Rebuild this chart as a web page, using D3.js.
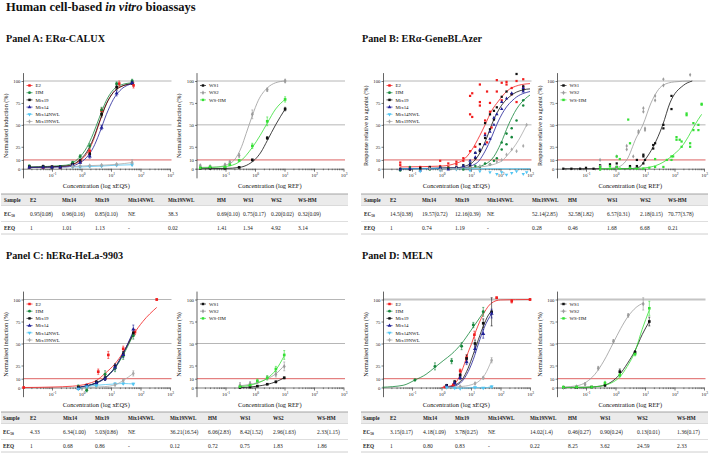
<!DOCTYPE html>
<html>
<head>
<meta charset="utf-8">
<script src="https://cdn.jsdelivr.net/npm/d3@7"></script>
<style>
  body { margin: 0; background: #fff; }
  svg { display: block; font-family: "Liberation Serif", "Times New Roman", serif; }
</style>
</head>
<body>
<svg id="chart" width="709" height="455"></svg>
<script>
// ---- legends / table headings ----
const legendMix = ['E2', 'HM', 'Mix19', 'Mix14', 'Mix14NWL', 'Mix19NWL'];
const legendWS = ['WS1', 'WS2', 'WS-HM'];
const tableCols = ['E2', 'Mix14', 'Mix19', 'Mix14NWL', 'Mix19NWL', 'HM', 'WS1', 'WS2', 'WS-HM'];
const xTicks = [0.1, 1, 10, 100, 1000];
const yTicks = [0, 10, 25, 50, 75, 100];

// ---- tables (EC50 and EEQ) ----
const ec50A = ['0.95(0.08)', '0.96(0.16)', '0.85(0.10)', 'NE', '38.3', '0.69(0.10)', '0.75(0.17)', '0.20(0.02)', '0.32(0.09)'];
const eeqA = ['1', '1.01', '1.13', '-', '0.02', '1.41', '1.34', '4.92', '3.14'];
const ec50B = ['14.5(0.38)', '19.57(0.72)', '12.16(0.39)', 'NE', '52.14(2.85)', '32.58(1.82)', '6.57(0.31)', '2.18(0.15)', '70.77(3.78)'];
const eeqB = ['1', '0.74', '1.19', '-', '0.28', '0.46', '1.68', '6.68', '0.21'];
const ec50C = ['4.33', '6.34(1.00)', '5.03(0.86)', 'NE', '36.21(16.54)', '6.06(2.83)', '8.42(1.52)', '2.96(1.63)', '2.33(1.15)'];
const eeqC = ['1', '0.68', '0.86', '-', '0.12', '0.72', '0.75', '1.83', '1.86'];
const ec50D = ['3.15(0.17)', '4.18(1.09)', '3.78(0.25)', 'NE', '14.02(1.4)', '0.46(0.27)', '0.90(0.24)', '0.13(0.01)', '1.36(0.17)'];
const eeqD = ['1', '0.80', '0.83', '-', '0.22', '8.25', '3.62', '24.59', '2.33'];

// ---- Panel A: ERa-CALUX  [series, conc, mean, sd] ----
const pointsA1 = [
	['E2', 0.017, 2, 1], ['E2', 0.05, 1.5, 1], ['E2', 0.1, 2, 1], ['E2', 0.19, 1.5, 1], ['E2', 0.5, 4, 1.5],
	['E2', 0.9, 8, 1.5], ['E2', 1.9, 20, 2], ['E2', 4.8, 66, 3], ['E2', 19, 97, 3], ['E2', 58, 95, 3],
	['HM', 0.017, 3, 1], ['HM', 0.05, 2.5, 1], ['HM', 0.1, 2, 1], ['HM', 0.19, 2.5, 1], ['HM', 0.5, 7, 1.5],
	['HM', 0.9, 14, 2], ['HM', 1.9, 26, 2.5], ['HM', 4.8, 67, 3], ['HM', 15.5, 97, 2], ['HM', 52, 100, 2],
	['Mix19', 0.017, 2, 1.5], ['Mix19', 0.05, 2.5, 1.5], ['Mix19', 0.1, 2, 1], ['Mix19', 0.19, 2, 1], ['Mix19', 0.5, 5, 2],
	['Mix19', 0.9, 9, 1.5], ['Mix19', 1.9, 17, 2], ['Mix19', 4.8, 62, 3], ['Mix19', 15.5, 93, 3], ['Mix19', 52, 98, 2],
	['Mix14', 0.017, 1.5, 1], ['Mix14', 0.05, 1.5, 1], ['Mix14', 0.1, 1.5, 1], ['Mix14', 0.19, 1.5, 1], ['Mix14', 0.5, 4, 1],
	['Mix14', 0.9, 7, 1], ['Mix14', 1.9, 14, 2], ['Mix14', 4.8, 47, 2.5], ['Mix14', 15.5, 86, 3], ['Mix14', 52, 98, 2],
	['Mix14NWL', 0.5, 2, 0.5], ['Mix14NWL', 0.9, 2, 0.5], ['Mix14NWL', 1.9, 2.5, 0.5], ['Mix14NWL', 4.8, 3, 0.5],
	['Mix14NWL', 15.5, 4, 0.5], ['Mix14NWL', 52, 4.5, 1],
	['Mix19NWL', 0.5, 2.5, 0.5], ['Mix19NWL', 0.9, 3, 0.5], ['Mix19NWL', 1.9, 3.5, 0.5], ['Mix19NWL', 4.8, 4, 0.5],
	['Mix19NWL', 15.5, 5, 0.8], ['Mix19NWL', 52, 7, 3.5]
];
// fitted curves  [series, conc, response]
const curvesA1 = [
	['E2', 0.017, 1.5], ['E2', 0.3, 3], ['E2', 0.8, 8], ['E2', 1.5, 17], ['E2', 2.5, 32], ['E2', 4, 52], ['E2', 7, 74], ['E2', 12, 87], ['E2', 20, 93], ['E2', 58, 97],
	['HM', 0.017, 2], ['HM', 0.3, 4], ['HM', 0.8, 12], ['HM', 1.5, 24], ['HM', 2.5, 40], ['HM', 4, 58], ['HM', 7, 78], ['HM', 12, 90], ['HM', 20, 95], ['HM', 52, 98],
	['Mix19', 0.017, 1.5], ['Mix19', 0.3, 3], ['Mix19', 0.8, 9], ['Mix19', 1.5, 19], ['Mix19', 2.5, 34], ['Mix19', 4, 53], ['Mix19', 7, 74], ['Mix19', 12, 87], ['Mix19', 20, 93], ['Mix19', 52, 97],
	['Mix14', 0.017, 1.5], ['Mix14', 0.3, 2], ['Mix14', 0.8, 6], ['Mix14', 1.5, 13], ['Mix14', 2.5, 24], ['Mix14', 4, 40], ['Mix14', 7, 62], ['Mix14', 12, 79], ['Mix14', 20, 89], ['Mix14', 52, 97],
	['Mix14NWL', 0.5, 2], ['Mix14NWL', 0.9, 2], ['Mix14NWL', 1.9, 2.5], ['Mix14NWL', 4.8, 3], ['Mix14NWL', 15.5, 4], ['Mix14NWL', 52, 4.5],
	['Mix19NWL', 0.5, 2.5], ['Mix19NWL', 0.9, 3], ['Mix19NWL', 1.9, 3.5], ['Mix19NWL', 4.8, 4], ['Mix19NWL', 15.5, 5], ['Mix19NWL', 52, 7]
];
const pointsA2 = [
	['WS1', 0.014, 0.5, 0.5], ['WS1', 0.03, 0.5, 0.5], ['WS1', 0.096, 0.5, 0.5], ['WS1', 0.29, 1.5, 0.5],
	['WS1', 0.81, 10, 1], ['WS1', 2.6, 35, 1.5], ['WS1', 10.5, 68, 2],
	['WS2', 0.014, 3.5, 1.5], ['WS2', 0.03, 2.5, 1], ['WS2', 0.096, 4.5, 1], ['WS2', 0.14, 7.5, 1.5],
	['WS2', 0.29, 15, 2.5], ['WS2', 0.81, 62, 5], ['WS2', 2.6, 90, 2], ['WS2', 10.5, 100, 2],
	['WS-HM', 0.014, 1, 1], ['WS-HM', 0.03, 2, 1], ['WS-HM', 0.096, 2, 1], ['WS-HM', 0.14, 4.5, 1],
	['WS-HM', 0.29, 9.5, 1], ['WS-HM', 0.81, 26, 3], ['WS-HM', 2.6, 54, 5], ['WS-HM', 10.5, 79, 3]
];
const curvesA2 = [
	['WS1', 0.014, 0], ['WS1', 0.1, 0.3], ['WS1', 0.3, 1.5], ['WS1', 0.6, 5], ['WS1', 1, 10.5], ['WS1', 1.6, 19], ['WS1', 2.6, 32], ['WS1', 5, 50], ['WS1', 10.5, 68],
	['WS2', 0.014, 1.5], ['WS2', 0.05, 2], ['WS2', 0.1, 4], ['WS2', 0.2, 10], ['WS2', 0.35, 25], ['WS2', 0.5, 40], ['WS2', 0.8, 60], ['WS2', 1.3, 78], ['WS2', 2.6, 92], ['WS2', 5, 98], ['WS2', 10.5, 100],
	['WS-HM', 0.014, 1], ['WS-HM', 0.1, 2.5], ['WS-HM', 0.3, 8], ['WS-HM', 0.8, 24], ['WS-HM', 1.5, 38], ['WS-HM', 2.6, 52], ['WS-HM', 5, 68], ['WS-HM', 10.5, 79]
];

// ---- Panel B: ERa-GeneBLAzer  (replicates)  [series, conc, response] ----
const pointsB1 = [
	['E2', 0.04, 4], ['E2', 0.04, 7], ['E2', 0.085, 1], ['E2', 0.19, 2], ['E2', 0.19, -1], ['E2', 0.4, 1], ['E2', 0.9, 3], ['E2', 0.9, 9],
	['E2', 1.7, 2], ['E2', 1.7, 6], ['E2', 3.2, 5], ['E2', 3.2, 8], ['E2', 5.5, 9], ['E2', 5.5, 12], ['E2', 9.3, 20], ['E2', 9.3, 62],
	['E2', 9.3, 83], ['E2', 11, 86], ['E2', 11, 59], ['E2', 14, 25], ['E2', 20, 96], ['E2', 20, 76], ['E2', 20, 72], ['E2', 30, 55],
	['E2', 30, 40], ['E2', 35, 88], ['E2', 35, 30], ['E2', 44, 75], ['E2', 44, 65], ['E2', 50, 47], ['E2', 75, 101], ['E2', 75, 88],
	['E2', 110, 98], ['E2', 110, 78], ['E2', 160, 99], ['E2', 160, 96], ['E2', 240, 85], ['E2', 240, 92], ['E2', 350, 100], ['E2', 350, 76],
	['E2', 590, 102], ['E2', 590, 93],
	['HM', 0.04, -2], ['HM', 0.085, 2], ['HM', 0.19, 0], ['HM', 0.4, -1], ['HM', 0.9, 2], ['HM', 1.7, 1], ['HM', 3.2, 0], ['HM', 5.5, -1],
	['HM', 9.3, 1], ['HM', 14, 3], ['HM', 20, 2], ['HM', 30, 6], ['HM', 44, 5], ['HM', 60, 9], ['HM', 75, 12], ['HM', 110, 22],
	['HM', 110, 30], ['HM', 160, 28], ['HM', 160, 40], ['HM', 240, 36], ['HM', 240, 46], ['HM', 350, 55], ['HM', 590, 72], ['HM', 590, 78],
	['Mix19', 0.04, 0], ['Mix19', 0.085, -1], ['Mix19', 0.19, 1], ['Mix19', 0.4, 2], ['Mix19', 0.9, 1], ['Mix19', 1.7, 0], ['Mix19', 3.2, 2],
	['Mix19', 5.5, 4], ['Mix19', 9.3, 6], ['Mix19', 9.3, 3], ['Mix19', 14, 12], ['Mix19', 14, 18], ['Mix19', 20, 20], ['Mix19', 20, 28],
	['Mix19', 30, 35], ['Mix19', 30, 52], ['Mix19', 44, 45], ['Mix19', 44, 62], ['Mix19', 60, 56], ['Mix19', 60, 66], ['Mix19', 75, 70],
	['Mix19', 110, 82], ['Mix19', 160, 88], ['Mix19', 240, 85], ['Mix19', 350, 108], ['Mix19', 590, 90], ['Mix19', 590, 94],
	['Mix14', 0.04, -1], ['Mix14', 0.085, 0], ['Mix14', 0.19, -2], ['Mix14', 0.4, 0], ['Mix14', 0.9, 1], ['Mix14', 1.7, -1], ['Mix14', 3.2, 1],
	['Mix14', 5.5, 3], ['Mix14', 9.3, 5], ['Mix14', 9.3, 9], ['Mix14', 14, 13], ['Mix14', 14, 18], ['Mix14', 20, 22], ['Mix14', 30, 28],
	['Mix14', 30, 38], ['Mix14', 44, 34], ['Mix14', 44, 42], ['Mix14', 60, 50], ['Mix14', 60, 58], ['Mix14', 75, 62], ['Mix14', 110, 68],
	['Mix14', 110, 76], ['Mix14', 160, 80], ['Mix14', 240, 86], ['Mix14', 590, 88], ['Mix14', 590, 92],
	['Mix14NWL', 0.19, -3], ['Mix14NWL', 0.9, -2], ['Mix14NWL', 3.2, -1], ['Mix14NWL', 9.3, -2], ['Mix14NWL', 20, -3], ['Mix14NWL', 44, -4],
	['Mix14NWL', 75, -6], ['Mix14NWL', 110, -4], ['Mix14NWL', 160, -7], ['Mix14NWL', 240, -5], ['Mix14NWL', 350, -3], ['Mix14NWL', 590, -6],
	['Mix14NWL', 770, -4],
	['Mix19NWL', 0.4, 0], ['Mix19NWL', 0.9, -1], ['Mix19NWL', 3.2, 0], ['Mix19NWL', 9.3, 1], ['Mix19NWL', 20, 3], ['Mix19NWL', 44, 5],
	['Mix19NWL', 75, 8], ['Mix19NWL', 110, 10], ['Mix19NWL', 160, 16], ['Mix19NWL', 240, 22], ['Mix19NWL', 350, 20], ['Mix19NWL', 590, 26],
	['Mix19NWL', 770, 50]
];
const curvesB1 = [
	['E2', 0.04, 2], ['E2', 1, 3], ['E2', 3, 6], ['E2', 5.5, 10], ['E2', 10, 20], ['E2', 20, 38], ['E2', 30, 50], ['E2', 50, 66], ['E2', 85, 77], ['E2', 160, 88], ['E2', 400, 95], ['E2', 1000, 97],
	['HM', 0.04, 0], ['HM', 10, 1], ['HM', 30, 5], ['HM', 60, 14], ['HM', 100, 28], ['HM', 186, 50], ['HM', 350, 68], ['HM', 700, 80], ['HM', 1000, 84],
	['Mix19', 0.04, 0], ['Mix19', 3, 1], ['Mix19', 9, 5], ['Mix19', 20, 18], ['Mix19', 35, 36], ['Mix19', 50, 50], ['Mix19', 90, 68], ['Mix19', 200, 82], ['Mix19', 600, 90], ['Mix19', 1000, 91],
	['Mix14', 0.04, 0], ['Mix14', 5, 1], ['Mix14', 15, 6], ['Mix14', 30, 20], ['Mix14', 50, 36], ['Mix14', 74, 50], ['Mix14', 130, 66], ['Mix14', 300, 80], ['Mix14', 1000, 88],
	['Mix14NWL', 0.04, 0], ['Mix14NWL', 1000, 0],
	['Mix19NWL', 1, 0], ['Mix19NWL', 20, 2], ['Mix19NWL', 100, 8], ['Mix19NWL', 200, 18], ['Mix19NWL', 400, 32], ['Mix19NWL', 770, 50]
];
const pointsB2 = [
	['WS1', 0.017, 0], ['WS1', 0.032, 0], ['WS1', 0.063, 0], ['WS1', 0.1, 1], ['WS1', 0.18, 0], ['WS1', 0.3, 2], ['WS1', 0.3, 4],
	['WS1', 0.65, 5], ['WS1', 1.1, 6], ['WS1', 1.1, 2], ['WS1', 3.1, 3], ['WS1', 3.1, 1], ['WS1', 5.3, 10], ['WS1', 5.3, 3],
	['WS1', 8.8, 14], ['WS1', 8.8, 16], ['WS1', 8.8, 6], ['WS1', 10, 10], ['WS1', 19, 23], ['WS1', 19, 27], ['WS1', 22, 29],
	['WS1', 42, 50], ['WS1', 42, 46], ['WS1', 79, 83], ['WS1', 79, 68],
	['WS2', 0.3, 10], ['WS2', 0.3, 3], ['WS2', 1.1, 14], ['WS2', 1.1, 1], ['WS2', 2.4, 22], ['WS2', 2.4, 26], ['WS2', 4, 14],
	['WS2', 6, 43], ['WS2', 6, 41], ['WS2', 8.8, 69], ['WS2', 8.8, 65], ['WS2', 10, 46], ['WS2', 10, 44], ['WS2', 22, 83],
	['WS2', 22, 78], ['WS2', 42, 102], ['WS2', 42, 95], ['WS2', 339, 107],
	['WS-HM', 0.3, 2], ['WS-HM', 0.3, -1], ['WS-HM', 0.65, 0], ['WS-HM', 0.65, 3], ['WS-HM', 1.1, 14], ['WS-HM', 1.1, 2],
	['WS-HM', 1.4, 11], ['WS-HM', 1.4, 0], ['WS-HM', 2.7, 56], ['WS-HM', 3.1, 29], ['WS-HM', 3.1, 1], ['WS-HM', 5.3, 0],
	['WS-HM', 8.8, 0], ['WS-HM', 14, 1], ['WS-HM', 22, 11], ['WS-HM', 22, 2], ['WS-HM', 42, 2], ['WS-HM', 55, 10],
	['WS-HM', 79, 10], ['WS-HM', 79, 14], ['WS-HM', 90, 14], ['WS-HM', 117, 33], ['WS-HM', 117, 36], ['WS-HM', 150, 33],
	['WS-HM', 174, 25], ['WS-HM', 174, 31], ['WS-HM', 257, 63], ['WS-HM', 257, 61], ['WS-HM', 339, 29], ['WS-HM', 339, 25],
	['WS-HM', 437, 52], ['WS-HM', 437, 44], ['WS-HM', 646, 50], ['WS-HM', 646, 44], ['WS-HM', 832, 74], ['WS-HM', 832, 73]
];
const curvesB2 = [
	['WS1', 0.017, 0], ['WS1', 3, 0], ['WS1', 6.5, 2], ['WS1', 10, 10], ['WS1', 19, 25], ['WS1', 40, 50], ['WS1', 70, 75], ['WS1', 200, 95], ['WS1', 400, 100],
	['WS2', 0.3, 0], ['WS2', 1, 1], ['WS2', 2.4, 10], ['WS2', 5, 35], ['WS2', 8.5, 50], ['WS2', 16, 75], ['WS2', 40, 95], ['WS2', 100, 99], ['WS2', 340, 100],
	['WS-HM', 0.3, 0], ['WS-HM', 3, 0], ['WS-HM', 10, 1], ['WS-HM', 30, 5], ['WS-HM', 55, 10], ['WS-HM', 100, 17], ['WS-HM', 175, 25], ['WS-HM', 300, 37], ['WS-HM', 490, 50], ['WS-HM', 832, 62]
];

// ---- Panel C: hERa-HeLa-9903 ----
const pointsC1 = [
	['E2', 0.011, 0, 0.5], ['E2', 0.78, 1, 1], ['E2', 1.5, 2, 1.5], ['E2', 3.7, 18, 3], ['E2', 8.1, 37, 4],
	['E2', 26, 44, 3], ['E2', 65, 63, 3], ['E2', 355, 100, 1],
	['HM', 0.78, 1, 2], ['HM', 1.5, -3, 2], ['HM', 3.2, 4, 3], ['HM', 6.3, 15, 4], ['HM', 13.7, 22, 4], ['HM', 26, 36, 4], ['HM', 57, 59, 4],
	['Mix19', 0.78, 0, 1], ['Mix19', 1.5, 2, 1.5], ['Mix19', 3.2, 6, 2], ['Mix19', 6.3, 11, 3], ['Mix19', 13.7, 24, 3], ['Mix19', 26, 38, 3], ['Mix19', 57, 62, 4],
	['Mix14', 0.78, -1, 1], ['Mix14', 1.5, 2, 1], ['Mix14', 3.2, 5, 2], ['Mix14', 6.3, 10, 2], ['Mix14', 13.7, 23, 3], ['Mix14', 26, 37, 3], ['Mix14', 57, 66, 5],
	['Mix14NWL', 0.78, -1.5, 1], ['Mix14NWL', 1.5, 1, 1], ['Mix14NWL', 3.2, 2.5, 1], ['Mix14NWL', 13.7, 4, 1.5], ['Mix14NWL', 26, 4.5, 1], ['Mix14NWL', 57, 4, 1],
	['Mix19NWL', 13.7, 3, 1], ['Mix19NWL', 26, 8, 1], ['Mix19NWL', 57, 16, 3]
];
const curvesC1 = [
	['E2', 0.011, 0], ['E2', 0.1, 0.5], ['E2', 0.5, 1.5], ['E2', 1.5, 4], ['E2', 3.2, 8], ['E2', 6.3, 16], ['E2', 13.7, 27], ['E2', 26, 40], ['E2', 57, 60], ['E2', 120, 75], ['E2', 355, 91],
	['HM', 0.78, 0], ['HM', 1.5, 1.5], ['HM', 3.2, 5], ['HM', 6.3, 11], ['HM', 13.7, 22], ['HM', 26, 37], ['HM', 57, 60],
	['Mix19', 0.78, 0], ['Mix19', 1.5, 2], ['Mix19', 3.2, 5.5], ['Mix19', 6.3, 11], ['Mix19', 13.7, 23], ['Mix19', 26, 39], ['Mix19', 57, 62],
	['Mix14', 0.78, 0], ['Mix14', 1.5, 2], ['Mix14', 3.2, 5], ['Mix14', 6.3, 10.5], ['Mix14', 13.7, 22.5], ['Mix14', 26, 39], ['Mix14', 57, 64],
	['Mix14NWL', 0.78, -1.5], ['Mix14NWL', 1.5, 1], ['Mix14NWL', 3.2, 2.5], ['Mix14NWL', 13.7, 4], ['Mix14NWL', 26, 4.5], ['Mix14NWL', 57, 4],
	['Mix19NWL', 1, 0], ['Mix19NWL', 6, 1], ['Mix19NWL', 13.7, 3], ['Mix19NWL', 26, 8], ['Mix19NWL', 57, 16]
];
const pointsC2 = [
	['WS1', 0.31, 0, 0.5], ['WS1', 0.68, 0.5, 0.5], ['WS1', 1.2, 1.5, 0.5], ['WS1', 2.6, 3.7, 0.5], ['WS1', 5.1, 6.4, 1], ['WS1', 9.8, 11, 1],
	['WS2', 0.31, 2.6, 3], ['WS2', 0.68, 4.5, 2], ['WS2', 1.2, 6.4, 2], ['WS2', 2.6, 11, 2], ['WS2', 5.1, 15, 3], ['WS2', 9.8, 24, 5],
	['WS-HM', 0.31, 1, 1], ['WS-HM', 0.68, 2.6, 1.5], ['WS-HM', 1.2, 7.5, 2], ['WS-HM', 2.6, 11, 2.5], ['WS-HM', 5.1, 21, 3], ['WS-HM', 9.8, 37, 5]
];
const curvesC2 = [
	['WS1', 0.31, 0], ['WS1', 0.68, 0.5], ['WS1', 1.2, 1.5], ['WS1', 2.6, 3.5], ['WS1', 5.1, 6.5], ['WS1', 9.8, 11],
	['WS2', 0.31, 2], ['WS2', 0.68, 3.5], ['WS2', 1.2, 5.5], ['WS2', 2.6, 10], ['WS2', 5.1, 15.5], ['WS2', 9.8, 25],
	['WS-HM', 0.31, 1], ['WS-HM', 0.68, 2.5], ['WS-HM', 1.2, 5], ['WS-HM', 2.6, 10.5], ['WS-HM', 5.1, 20], ['WS-HM', 9.8, 36]
];

// ---- Panel D: MELN ----
const pointsD1 = [
	['E2', 1.3, 0.5, 0.5], ['E2', 2.5, 3, 1], ['E2', 4.3, 19, 2], ['E2', 7.1, 34, 3], ['E2', 13, 60, 4],
	['E2', 74, 102, 1], ['E2', 240, 98, 2], ['E2', 1000, 100, 1],
	['HM', 0.126, 8.5, 1], ['HM', 0.6, 24, 4], ['HM', 2.2, 30, 3], ['HM', 4.8, 47, 4], ['HM', 12, 71, 3], ['HM', 26, 86, 5],
	['Mix19', 1.5, 2.5, 1], ['Mix19', 2.8, 6.5, 1.5], ['Mix19', 4.3, 14, 2], ['Mix19', 7.1, 33, 4], ['Mix19', 13.7, 50, 4], ['Mix19', 26, 73, 5], ['Mix19', 50, 86, 16],
	['Mix14', 1.5, 1.5, 1], ['Mix14', 2.8, 5, 1.5], ['Mix14', 4.3, 11, 2], ['Mix14', 7.1, 29, 3], ['Mix14', 13.7, 44, 4], ['Mix14', 26, 61, 5], ['Mix14', 50, 84, 5],
	['Mix14NWL', 1.5, 0, 0.5], ['Mix14NWL', 2.8, -0.5, 0.5], ['Mix14NWL', 4.3, -1, 0.5], ['Mix14NWL', 13.7, 0, 0.5], ['Mix14NWL', 26, -0.5, 0.5], ['Mix14NWL', 50, 1, 1],
	['Mix19NWL', 4.3, 1, 1], ['Mix19NWL', 13.7, 4.5, 1], ['Mix19NWL', 26, 11, 1.5], ['Mix19NWL', 50, 31, 3]
];
const curvesD1 = [
	['E2', 1, 0], ['E2', 2.5, 3], ['E2', 4, 12], ['E2', 6, 27], ['E2', 8, 40], ['E2', 10.5, 50], ['E2', 15, 65], ['E2', 25, 82], ['E2', 50, 96], ['E2', 100, 99.5], ['E2', 1000, 100],
	['HM', 0.01, 0.3], ['HM', 0.05, 2.5], ['HM', 0.126, 8.5], ['HM', 0.3, 15], ['HM', 0.6, 23], ['HM', 1.2, 31], ['HM', 2.2, 38], ['HM', 4.8, 50], ['HM', 10, 65], ['HM', 26, 85],
	['Mix19', 1.5, 0], ['Mix19', 3, 3], ['Mix19', 5, 9], ['Mix19', 8, 22], ['Mix19', 12, 38], ['Mix19', 16, 50], ['Mix19', 25, 68], ['Mix19', 40, 83], ['Mix19', 50, 87],
	['Mix14', 1.5, 0], ['Mix14', 3, 2], ['Mix14', 5, 7], ['Mix14', 8, 18], ['Mix14', 12, 32], ['Mix14', 18, 50], ['Mix14', 28, 68], ['Mix14', 50, 84],
	['Mix14NWL', 1.5, 0], ['Mix14NWL', 2.8, -0.5], ['Mix14NWL', 4.3, -1], ['Mix14NWL', 13.7, 0], ['Mix14NWL', 26, -0.5], ['Mix14NWL', 50, 1],
	['Mix19NWL', 1.5, 0], ['Mix19NWL', 4.3, 1], ['Mix19NWL', 10, 3], ['Mix19NWL', 20, 8], ['Mix19NWL', 30, 15], ['Mix19NWL', 50, 31]
];
const pointsD2 = [
	['WS1', 0.017, 0, 0.5], ['WS1', 0.048, 0, 0.5], ['WS1', 0.155, 0.5, 0.5], ['WS1', 0.44, 2.5, 1], ['WS1', 1.4, 18, 3], ['WS1', 4.6, 40, 2], ['WS1', 14, 75, 5],
	['WS2', 0.017, 0, 0.5], ['WS2', 0.048, 1, 0.5], ['WS2', 0.093, 3.8, 1.5], ['WS2', 0.26, 22, 2], ['WS2', 0.85, 52.5, 2], ['WS2', 2.7, 82, 2], ['WS2', 8.7, 95, 7],
	['WS-HM', 0.017, 0.5, 0.5], ['WS-HM', 0.048, 0.5, 0.5], ['WS-HM', 0.155, 0.5, 0.5], ['WS-HM', 0.44, 5, 2], ['WS-HM', 1.4, 14, 2], ['WS-HM', 4.6, 38, 2], ['WS-HM', 14, 90, 8]
];
const curvesD2 = [
	['WS1', 0.017, 0], ['WS1', 0.1, 0.3], ['WS1', 0.3, 1.5], ['WS1', 0.7, 6], ['WS1', 1.4, 15], ['WS1', 2.5, 27], ['WS1', 4.6, 42], ['WS1', 8, 60], ['WS1', 14, 75],
	['WS2', 0.017, 0.5], ['WS2', 0.05, 2], ['WS2', 0.1, 6], ['WS2', 0.2, 15], ['WS2', 0.4, 30], ['WS2', 0.85, 51], ['WS2', 1.5, 67], ['WS2', 2.7, 81], ['WS2', 5, 91], ['WS2', 8.7, 96],
	['WS-HM', 0.017, 0], ['WS-HM', 0.1, 0.2], ['WS-HM', 0.3, 1.5], ['WS-HM', 0.7, 5], ['WS-HM', 1.4, 12], ['WS-HM', 2.5, 24], ['WS-HM', 4.6, 41], ['WS-HM', 8, 66], ['WS-HM', 14, 88]
];

// ---- styles ----
const seriesStyle = {
	'E2': {color: '#f21d1d', symbol: d3.symbolSquare},
	'HM': {color: '#17873c', symbol: d3.symbolCircle},
	'Mix19': {color: '#111111', symbol: d3.symbolSquare},
	'Mix14': {color: '#1f1f96', symbol: d3.symbolTriangle},
	'Mix14NWL': {color: '#52c5f2', symbol: d3.symbolTriangle, rotate: 180},
	'Mix19NWL': {color: '#a8a8a8', symbol: d3.symbolDiamond},
	'WS1': {color: '#111111', symbol: d3.symbolSquare},
	'WS2': {color: '#9b9b9b', symbol: d3.symbolDiamond},
	'WS-HM': {color: '#35e035', symbol: d3.symbolSquare}
};
const serif = '"Liberation Serif", "Times New Roman", serif';
const svg = d3.select('#chart');

const plots = [
	{x0: 22.5, row: 0, legend: legendMix, points: pointsA1, curves: curvesA1, yLabel: 'Normalised induction (%)', xLabel: 'Concentration (log xEQS)'},
	{x0: 196, row: 0, legend: legendWS, points: pointsA2, curves: curvesA2, yLabel: 'Normalised induction (%)', xLabel: 'Concentration (log REF)'},
	{x0: 382.5, row: 0, legend: legendMix, points: pointsB1, curves: curvesB1, scatter: true, yLabel: 'Response relative to agonist (%)', xLabel: 'Concentration (log xEQS)'},
	{x0: 556.5, row: 0, legend: legendWS, points: pointsB2, curves: curvesB2, scatter: true, yLabel: 'Response relative to agonist (%)', xLabel: 'Concentration (log REF)'},
	{x0: 22.5, row: 1, legend: legendMix, points: pointsC1, curves: curvesC1, yLabel: 'Normalised induction (%)', xLabel: 'Concentration (log xEQS)'},
	{x0: 196, row: 1, legend: legendWS, points: pointsC2, curves: curvesC2, yLabel: 'Normalised induction (%)', xLabel: 'Concentration (log REF)'},
	{x0: 382.5, row: 1, legend: legendMix, points: pointsD1, curves: curvesD1, thickTop: true, yLabel: 'Normalised induction (%)', xLabel: 'Concentration (log xEQS)'},
	{x0: 556.5, row: 1, legend: legendWS, points: pointsD2, curves: curvesD2, thickTop: true, yLabel: 'Normalised induction (%)', xLabel: 'Concentration (log REF)'}
];

const tables = [
	{ox: 0, top: 194, ec50: ec50A, eeq: eeqA, cols: [4, 30, 62, 95, 128, 168, 217, 243, 271, 298]},
	{ox: 360, top: 194, ec50: ec50B, eeq: eeqB, cols: [4, 30, 62, 95, 127, 172, 208, 247, 280, 308]},
	{ox: 0, top: 412, ec50: ec50C, eeq: eeqC, cols: [3, 30, 63, 95, 128, 170, 208, 240, 273, 317]},
	{ox: 360, top: 412, ec50: ec50D, eeq: eeqD, cols: [3, 30, 63, 95, 128, 170, 208, 240, 277, 317]}
];

const panelTitles = [
	{x: 6, y: 41.5, text: 'Panel A: ERα-CALUX'},
	{x: 362, y: 41.5, text: 'Panel B: ERα-GeneBLAzer'},
	{x: 6, y: 258.5, text: 'Panel C: hERα-HeLa-9903'},
	{x: 362, y: 258.5, text: 'Panel D: MELN'}
];

function symbolPath(name, size) {
	return d3.symbol().type(seriesStyle[name].symbol).size(size)();
}

function drawPlot(p) {
	const top = p.row === 0 ? 81 : 299.5;
	const bottom = p.row === 0 ? 168.7 : 387.5;
	const x = d3.scaleLog().domain([0.01, 1000]).range([p.x0, p.x0 + 147.5]);
	const y = d3.scaleLinear().domain([0, 100]).range([bottom, top]);
	const g = svg.append('g');
	const axisX = p.x0 + 1;
	const rightEdge = p.x0 + 149;

	// grey guide lines and the red 10 % threshold
	g.selectAll('line.guide').data([100, 50]).join('line')
		.attr('class', 'guide')
		.attr('x1', axisX).attr('x2', rightEdge)
		.attr('y1', d => y(d)).attr('y2', d => y(d))
		.attr('stroke', d => d === 100 && p.thickTop ? '#c4c4c4' : '#a3a3a3')
		.attr('stroke-width', d => d === 100 && p.thickTop ? 2 : 0.8);
	g.append('line')
		.attr('x1', axisX).attr('x2', rightEdge)
		.attr('y1', y(10)).attr('y2', y(10))
		.attr('stroke', '#d43a3a').attr('stroke-width', 0.8);

	// x axis: minor ticks, then major ticks with 10^n labels
	const minor = [];
	[0.01, 0.1, 1, 10, 100].forEach(d => { for (let k = 2; k <= 9; k++) minor.push(d * k); });
	g.append('g')
		.attr('transform', `translate(0,${y(0)})`)
		.call(d3.axisBottom(x).tickValues(minor).tickSize(1.6).tickSizeOuter(0).tickFormat(''))
		.call(a => a.select('.domain').attr('stroke', '#222').attr('stroke-width', 0.6))
		.call(a => a.selectAll('.tick line').attr('stroke', '#222').attr('stroke-width', 0.5));
	const xAxis = g.append('g')
		.attr('transform', `translate(0,${y(0)})`)
		.call(d3.axisBottom(x).tickValues(xTicks).tickSize(3).tickPadding(1.5).tickSizeOuter(0))
		.call(a => a.select('.domain').remove())
		.call(a => a.selectAll('.tick line').attr('stroke', '#222').attr('stroke-width', 0.6));
	xAxis.selectAll('.tick text')
		.attr('font-family', serif).attr('font-size', 5).attr('fill', '#222')
		.each(function (d) {
			const t = d3.select(this).text('10');
			t.append('tspan').attr('dy', -1.8).attr('font-size', 3.5).text(Math.round(Math.log10(d)));
		});

	// y axis
	g.append('line')
		.attr('x1', axisX).attr('x2', axisX)
		.attr('y1', y(109)).attr('y2', y(-11))
		.attr('stroke', '#222').attr('stroke-width', 0.7);
	g.append('g')
		.attr('transform', `translate(${axisX},0)`)
		.call(d3.axisLeft(y).tickValues(yTicks).tickSize(2).tickPadding(1).tickSizeOuter(0))
		.call(a => a.select('.domain').remove())
		.call(a => a.selectAll('.tick line').attr('stroke', '#222').attr('stroke-width', 0.6))
		.call(a => a.selectAll('.tick text').attr('font-family', serif).attr('font-size', 4.8).attr('fill', '#222'));

	// axis titles
	g.append('text')
		.attr('x', p.x0 + 73.75).attr('y', y(0) + 19)
		.attr('text-anchor', 'middle').attr('font-size', 6.4).attr('fill', '#111')
		.text(p.xLabel);
	g.append('text')
		.attr('transform', `translate(${axisX - 17},${(y(109) + y(-11)) / 2}) rotate(-90)`)
		.attr('text-anchor', 'middle').attr('dominant-baseline', 'middle')
		.attr('font-size', 6.2).attr('fill', '#111')
		.text(p.yLabel);

	// fitted curves
	const line = d3.line()
		.x(d => x(d[1]))
		.y(d => y(d[2]))
		.curve(d3.curveMonotoneX);
	const curveGroups = d3.group(p.curves, d => d[0]);
	p.legend.forEach(name => {
		const pts = curveGroups.get(name);
		if (!pts) return;
		g.append('path')
			.attr('d', line(pts))
			.attr('fill', 'none')
			.attr('stroke', seriesStyle[name].color)
			.attr('stroke-width', 0.8);
	});

	// error bars (means +/- sd)
	if (!p.scatter) {
		const bars = g.selectAll('g.err').data(p.points.filter(d => d[3] > 0)).join('g')
			.attr('class', 'err')
			.attr('stroke', d => seriesStyle[d[0]].color)
			.attr('stroke-width', 0.6);
		bars.append('line')
			.attr('x1', d => x(d[1])).attr('x2', d => x(d[1]))
			.attr('y1', d => y(d[2] - d[3])).attr('y2', d => y(d[2] + d[3]));
		bars.append('line')
			.attr('x1', d => x(d[1]) - 1).attr('x2', d => x(d[1]) + 1)
			.attr('y1', d => y(d[2] + d[3])).attr('y2', d => y(d[2] + d[3]));
		bars.append('line')
			.attr('x1', d => x(d[1]) - 1).attr('x2', d => x(d[1]) + 1)
			.attr('y1', d => y(d[2] - d[3])).attr('y2', d => y(d[2] - d[3]));
	}

	// markers
	const markerSize = p.scatter ? 5 : 7;
	g.selectAll('path.pt').data(p.points).join('path')
		.attr('class', 'pt')
		.attr('d', d => symbolPath(d[0], markerSize))
		.attr('transform', d => `translate(${x(d[1])},${y(d[2])}) rotate(${seriesStyle[d[0]].rotate || 0})`)
		.attr('fill', d => seriesStyle[d[0]].color);

	// legend
	const leg = g.selectAll('g.leg').data(p.legend).join('g')
		.attr('class', 'leg')
		.attr('transform', (d, i) => `translate(${axisX + 6},${top + 4.5 + i * 7.2})`);
	leg.append('line')
		.attr('x1', -3).attr('x2', 3)
		.attr('stroke', d => seriesStyle[d].color).attr('stroke-width', 0.7);
	leg.append('path')
		.attr('d', d => symbolPath(d, 6))
		.attr('transform', d => `rotate(${seriesStyle[d].rotate || 0})`)
		.attr('fill', d => seriesStyle[d].color);
	leg.append('text')
		.attr('x', 6).attr('dy', '0.35em')
		.attr('font-size', 4.9).attr('fill', '#111')
		.text(d => d);
}

function drawTable(t) {
	const g = svg.append('g').attr('font-size', 5.5).attr('fill', '#222');
	const left = t.ox + 1, right = t.ox + 348;
	g.append('rect')
		.attr('x', left).attr('y', t.top)
		.attr('width', right - left).attr('height', 11.5)
		.attr('fill', '#ebebeb');
	g.selectAll('line').data([0, 11.5, 27.5, 40]).join('line')
		.attr('x1', left).attr('x2', right)
		.attr('y1', d => t.top + d).attr('y2', d => t.top + d)
		.attr('stroke', (d, i) => i === 0 ? '#9a9a9a' : '#c8c8c8')
		.attr('stroke-width', d => d === 0 || d === 40 ? 0.9 : 0.6);

	const header = ['Sample'].concat(tableCols);
	g.selectAll('text.head').data(header).join('text')
		.attr('class', 'head')
		.attr('x', (d, i) => t.ox + t.cols[i]).attr('y', t.top + 7.7)
		.attr('font-weight', 'bold').attr('font-size', 5.2)
		.text(d => d);

	const ecLabel = g.append('text')
		.attr('x', t.ox + t.cols[0]).attr('y', t.top + 22)
		.attr('font-weight', 'bold').attr('font-size', 5.2)
		.text('EC');
	ecLabel.append('tspan').attr('dy', 1.3).attr('font-size', 3.6).text('50');
	g.append('text')
		.attr('x', t.ox + t.cols[0]).attr('y', t.top + 35.5)
		.attr('font-weight', 'bold').attr('font-size', 5.2)
		.text('EEQ');

	g.selectAll('text.ec').data(t.ec50).join('text')
		.attr('class', 'ec')
		.attr('x', (d, i) => t.ox + t.cols[i + 1]).attr('y', t.top + 22)
		.text(d => d);
	g.selectAll('text.eeq').data(t.eeq).join('text')
		.attr('class', 'eeq')
		.attr('x', (d, i) => t.ox + t.cols[i + 1]).attr('y', t.top + 35.5)
		.text(d => d);
}

// title
const title = svg.append('text')
	.attr('x', 6).attr('y', 11)
	.attr('font-size', 12.5).attr('font-weight', 'bold').attr('fill', '#111');
title.append('tspan').text('Human cell-based ');
title.append('tspan').attr('font-style', 'italic').text('in vitro');
title.append('tspan').text(' bioassays');

svg.selectAll('text.panel').data(panelTitles).join('text')
	.attr('class', 'panel')
	.attr('x', d => d.x).attr('y', d => d.y)
	.attr('font-size', 10.2).attr('font-weight', 'bold').attr('fill', '#111')
	.text(d => d.text);

plots.forEach(drawPlot);
tables.forEach(drawTable);
</script>
</body>
</html>
